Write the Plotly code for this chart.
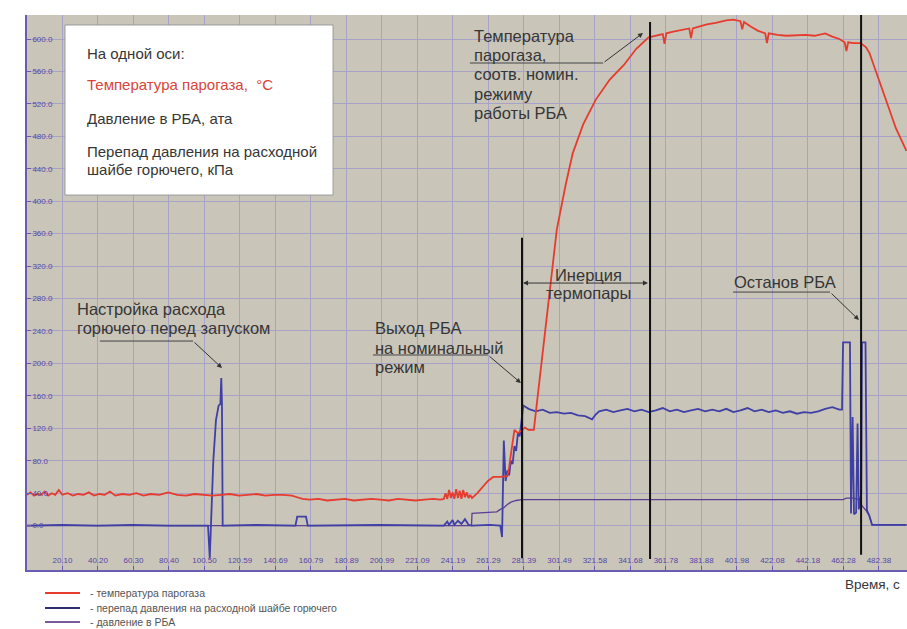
import plotly.graph_objects as go

# ---------------- data ----------------
temp_t = [0, 2, 4, 6, 8, 10, 12, 14, 16, 18, 20, 23, 26, 29, 32, 35, 38, 41, 44, 47,
          50, 54, 58, 62, 66, 70, 75, 80, 85, 90, 95, 100, 105, 110, 115, 120, 125, 130,
          135, 140, 145, 150, 153, 156, 160, 165, 170, 175, 180, 185, 190, 195, 200, 205,
          210, 215, 220, 225, 230, 234, 236, 237, 238, 239, 240, 241, 242, 243, 244, 245,
          246, 247, 248, 249, 250, 251, 252, 255, 258, 261, 264, 268, 272, 273, 274, 275,
          276, 278, 280, 282, 284, 287, 300, 305, 309, 315, 322, 330, 338, 345, 352, 356,
          360, 361, 362, 366, 370, 375, 376, 377, 380, 385, 390, 396, 400, 404, 405, 406,
          410, 414, 418, 419, 420, 425, 430, 436, 441, 446, 452, 456, 460, 463, 464, 465,
          468, 472, 475, 477, 480, 484, 488, 492, 498]
temp_v = [38, 41, 37, 39, 38, 42, 37, 40, 38, 44, 38, 40, 37, 39, 38, 41, 37, 39, 38, 42,
          37, 39, 38, 40, 37, 39, 38, 41, 38, 37, 39, 38, 37, 38, 39, 37, 38, 39,
          37, 38, 38, 37, 35, 33, 32, 33, 31, 32, 33, 31, 32, 33, 32, 31,
          33, 32, 31, 32, 33, 32, 33, 40, 33, 44, 34, 41, 33, 45, 34, 43,
          33, 44, 35, 41, 34, 38, 34, 40, 48, 55, 60, 60, 61, 72, 88, 104,
          118, 114, 117, 121, 118, 118, 365, 420, 459, 495, 525, 550, 568, 588, 602, 604,
          606, 594, 607, 609, 611, 613, 601, 613, 615, 618, 620, 623, 624, 622, 612, 621,
          615, 610, 607, 595, 607, 605, 604, 605, 605, 604, 607, 603, 600, 596, 585, 596,
          595, 595, 590, 583, 565, 541, 515, 490, 462]

flow_t = [0, 20, 40, 60, 80, 100, 102.5, 103.5, 104.3, 105.5, 107, 108.5, 109.5, 110,
          110.4, 110.8, 130, 152, 153, 158, 159, 200, 236, 238, 239, 241, 242, 244, 246,
          248, 250, 252, 262, 268, 269, 270, 271, 272, 273, 274, 275, 276, 277, 278, 279,
          280, 281, 284, 288, 292, 296, 300, 304, 308, 312, 316, 318, 320, 322, 324, 328,
          332, 336, 340, 344, 348, 352, 356, 360, 364, 368, 372, 376, 380, 384, 388, 392,
          396, 400, 404, 408, 412, 416, 420, 424, 428, 432, 436, 440, 444, 448, 452, 456,
          460, 461.5, 462.1, 466, 466.6, 467.5, 468.3, 469.5, 470.3, 471, 472.4, 472.8,
          474.8, 475.6, 477, 478.5, 498]
flow_v = [0, 1, 0, 1, 0, 0, 0, -40, 10, 80, 130, 148, 150, 182,
          150, 0, 1, 0, 11, 11, 0, 1, 0, 5, 1, 7, 1, 6, 2,
          8, 1, 0, 1, 0, -14, 105, 55, 68, 62, 80, 76, 98, 92, 115, 110,
          134, 148, 144, 141, 143, 139, 140, 138, 139, 136, 135, 133, 131, 137, 141, 143,
          140, 142, 144, 141, 143, 140, 142, 145, 141, 143, 140, 142, 144, 141, 143, 141,
          144, 140, 142, 145, 141, 143, 140, 142, 139, 141, 138, 140, 139, 141, 144, 146,
          143, 143, 226, 226, 15, 134, 14, 16, 126, 20, 40, 226,
          226, 19, 12, 1, 1]

press_t = [0, 251.7, 252, 262, 266, 268, 270, 272, 274, 277, 280, 300, 350, 400, 440,
           462, 464, 468, 471, 473, 475, 477, 478.5, 498]
press_v = [0, 0, 15, 16, 17, 20, 22, 26, 29, 31, 32, 32, 32, 32, 32,
           32, 34, 34, 32, 24, 19, 12, 1, 1]

event_t = [280.3, 352.8, 472.3]
event_top = [355, 621, 630]
event_bottom = [-40, -41, -36]

x_ticks = [20.10, 40.20, 60.30, 80.40, 100.50, 120.59, 140.69, 160.79, 180.89, 200.99,
           221.09, 241.19, 261.29, 281.39, 301.49, 321.58, 341.68, 361.78, 381.88,
           401.98, 422.08, 442.18, 462.28, 482.38]
y_ticks = [-40, 0, 40, 80, 120, 160, 200, 240, 280, 320, 360, 400, 440, 480, 520, 560, 600]

series_names = ["температура парогаза",
                "перепад давления на расходной шайбе горючего",
                "давление в РБА"]

# ---------------- styles ----------------
RED = "#e63b2e"
BLUE = "#3f3fa6"
PURPLE = "#5b3f93"
GRID = "#a7a2c6"
AXIS = "#6a5cb0"
TICKFONT = "#5646a8"
TXT = "#363636"
FONT = "Liberation Sans, Arial, sans-serif"

fig = go.Figure()
fig.add_trace(go.Scatter(x=press_t, y=press_v, mode="lines", name=series_names[2],
                         line=dict(color=PURPLE, width=1.3), showlegend=False))
fig.add_trace(go.Scatter(x=flow_t, y=flow_v, mode="lines", name=series_names[1],
                         line=dict(color=BLUE, width=1.8), showlegend=False))
fig.add_trace(go.Scatter(x=temp_t, y=temp_v, mode="lines", name=series_names[0],
                         line=dict(color=RED, width=1.8), showlegend=False))

shapes = []
annotations = []

# event vertical lines
for t, y0, y1 in zip(event_t, event_bottom, event_top):
    shapes.append(dict(type="line", xref="x", yref="y", x0=t, x1=t, y0=y0, y1=y1,
                       line=dict(color="#111111", width=2), layer="above"))

# info box
shapes.append(dict(type="rect", xref="x", yref="y", x0=21.5, x1=173.3, y0=407.6, y1=617.3,
                   fillcolor="white", line=dict(color="#9a9a9a", width=1), layer="above"))
box_lines = [("На одной оси:", 582.7, TXT),
             ("Температура парогаза,  °С", 543.3, "#d8443a"),
             ("Давление в РБА, ата", 502.6, TXT),
             ("Перепад давления на расходной", 460.7, TXT),
             ("шайбе горючего, кПа", 438.5, TXT)]
for txt, yv, col in box_lines:
    annotations.append(dict(text=txt, x=32.8, y=yv, xref="x", yref="y", xanchor="left",
                            yanchor="middle", align="left", showarrow=False,
                            font=dict(family=FONT, size=15, color=col)))

# callout texts: (text, x, y, xanchor)
callout_lines = [
    ("Температура", 252.0, 603.7, "left"),
    ("парогаза,", 252.0, 580.3, "left"),
    ("соотв. номин.", 252.0, 556.8, "left"),
    ("режиму", 252.0, 532.2, "left"),
    ("работы РБА", 252.0, 508.8, "left"),
    ("Выход РБА", 195.9, 243.7, "left"),
    ("на номинальный", 195.9, 219.0, "left"),
    ("режим", 195.9, 195.6, "left"),
    ("Настройка расхода", 27.2, 267.1, "left"),
    ("горючего перед запуском", 27.2, 243.7, "left"),
    ("Останов РБА", 399.2, 300.4, "left"),
    ("Инерция", 318.2, 309.0, "center"),
    ("термопары", 318.2, 286.8, "center"),
]
for txt, xv, yv, xa in callout_lines:
    annotations.append(dict(text=txt, x=xv, y=yv, xref="x", yref="y", xanchor=xa,
                            yanchor="middle", showarrow=False,
                            font=dict(family=FONT, size=16.5, color=TXT)))

# underline + leader arrows
leaders = [
    (250.8, 326.2, 570.4, 348.8, 607.4),
    (195.9, 261.0, 210.4, 279.7, 175.8),
    (41.3, 94.0, 227.6, 110.4, 194.3),
    (399.8, 454.7, 288.0, 471.1, 253.5),
]
for x0, x1, yv, tx, ty in leaders:
    shapes.append(dict(type="line", xref="x", yref="y", x0=x0, x1=x1, y0=yv, y1=yv,
                       line=dict(color="#444444", width=1)))
    annotations.append(dict(text="", x=tx, y=ty, ax=x1, ay=yv, xref="x", yref="y",
                            axref="x", ayref="y", showarrow=True, arrowhead=2,
                            arrowsize=1, arrowwidth=1, arrowcolor="#333333"))

# double arrow (thermocouple inertia)
for tip in (280.9, 351.6):
    annotations.append(dict(text="", x=tip, y=299.1, ax=316.0, ay=299.1, xref="x", yref="y",
                            axref="x", ayref="y", showarrow=True, arrowhead=2,
                            arrowsize=1, arrowwidth=1, arrowcolor="#333333"))

# custom legend below plot
leg_y = [-0.0414, -0.0685, -0.0937]
leg_colors = [RED, "#2e2e6e", "#7a5a9c"]
for name, yv, col in zip(series_names, leg_y, leg_colors):
    shapes.append(dict(type="line", xref="paper", yref="paper", x0=0.0205, x1=0.0602,
                       y0=yv, y1=yv, line=dict(color=col, width=2)))
    annotations.append(dict(text="- " + name, x=0.0693, y=yv, xref="paper", yref="paper",
                            xanchor="left", yanchor="middle", showarrow=False,
                            font=dict(family=FONT, size=10.5, color="#555555")))

annotations.append(dict(text="Время, с", x=0.9943, y=-0.027, xref="paper", yref="paper",
                        xanchor="right", yanchor="middle", showarrow=False,
                        font=dict(family=FONT, size=13.5, color=TXT)))

fig.update_layout(
    width=907, height=629,
    margin=dict(l=27, r=0, t=15, b=59),
    paper_bgcolor="white",
    plot_bgcolor="#c9c5b9",
    showlegend=False,
    hovermode=False,
    shapes=shapes,
    annotations=annotations,
    xaxis=dict(range=[0, 498.3], tickvals=x_ticks, tickformat=".2f",
               ticks="inside", ticklen=4, tickcolor=AXIS, ticklabelposition="inside",
               tickfont=dict(family=FONT, size=8, color=TICKFONT),
               showgrid=True, gridcolor=GRID, gridwidth=1,
               showline=True, linecolor=AXIS, linewidth=2, zeroline=False),
    yaxis=dict(range=[-54.7, 629.6], tickvals=y_ticks, tickformat=".1f",
               ticks="inside", ticklen=4, tickcolor=AXIS, ticklabelposition="inside",
               tickfont=dict(family=FONT, size=8, color=TICKFONT),
               showgrid=True, gridcolor=GRID, gridwidth=1,
               showline=True, linecolor=AXIS, linewidth=2, zeroline=False),
)

fig.write_html("out.html",
               config={"displayModeBar": False},
               post_script="document.body.style.margin='0';"
                           "document.body.style.overflow='hidden';")
